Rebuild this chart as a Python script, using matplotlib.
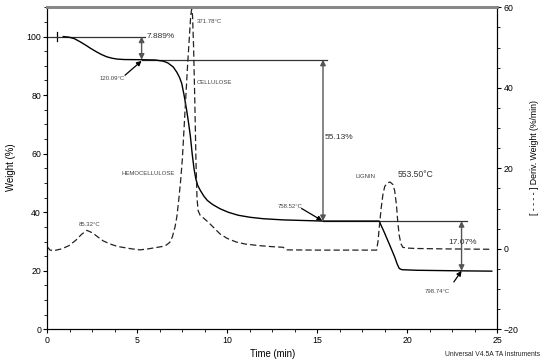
import matplotlib
matplotlib.use("Agg")
import matplotlib.pyplot as plt
from matplotlib.ticker import MultipleLocator

plt.rcParams['font.family'] = ['Liberation Sans', 'DejaVu Sans']

# weight loss curve (Weight %, left axis)
t_w = [0.89, 1.2, 1.5, 1.8, 2.1, 2.4, 2.7, 3.0, 3.3, 3.6, 3.9, 4.3, 5.24, 6.0, 6.44,
       6.7, 7.0, 7.2, 7.35, 7.47, 7.6, 7.74, 7.85, 7.95, 8.05, 8.15, 8.25, 8.35, 8.5,
       8.7, 8.9, 9.2, 9.6, 10.06, 10.6, 11.26, 12.0, 13.1, 14.2, 15.28, 18.44, 18.7,
       19.0, 19.3, 19.45, 19.56, 19.7, 20.5, 23.0, 24.7]
weight = [100.0, 99.8, 99.3, 98.3, 97.2, 96.0, 94.9, 93.9, 93.1, 92.6, 92.3, 92.15,
          92.1, 92.0, 91.6, 91.0, 89.6, 87.8, 86.0, 84.0, 80.0, 75.0, 70.5, 66.0, 60.0,
          55.0, 51.5, 49.3, 47.5, 45.5, 44.0, 42.6, 41.2, 40.0, 39.0, 38.3, 37.8, 37.4,
          37.2, 37.0, 37.0, 33.5, 29.2, 24.8, 22.2, 20.8, 20.4, 20.2, 20.0, 19.9]

# derivative weight curve (%/min, right axis)
t_d = [0.0, 0.15, 0.4, 0.8, 1.2, 1.6, 1.9, 2.2, 2.5, 2.8, 3.1, 3.5, 3.9, 4.3, 4.7,
       5.15, 5.6, 6.0, 6.4, 6.6, 6.8, 6.95, 7.1, 7.2, 7.3, 7.4, 7.5, 7.6, 7.7, 7.8,
       7.9, 7.97, 8.02, 8.07, 8.13, 8.2, 8.26, 8.32, 8.38, 8.5, 8.67, 8.8, 8.95, 9.2,
       9.6, 10.0, 10.5, 11.0, 11.8, 12.5, 13.1, 13.3, 15.0, 18.3, 18.38, 18.45, 18.55,
       18.65, 18.75, 18.9, 19.05, 19.2, 19.3, 19.4, 19.47, 19.55, 19.65, 19.75, 20.0,
       20.5, 22.0, 24.7]
deriv = [0.5, -0.3, -0.4, 0.0, 0.8, 2.2, 3.6, 4.6, 4.0, 3.0, 2.0, 1.2, 0.6, 0.3, 0.0,
         -0.25, 0.0, 0.3, 0.6, 0.9, 1.6, 3.0, 5.5, 8.0, 12.0, 16.5, 22.0, 30.0, 38.0,
         46.0, 53.0, 58.0, 59.5, 58.0, 50.0, 36.0, 22.0, 12.5, 9.5, 8.3, 7.7, 7.2, 6.6,
         5.5, 3.7, 2.6, 1.7, 1.2, 0.8, 0.55, 0.4, -0.25, -0.3, -0.3, 2.0, 5.5, 10.0,
         13.5, 15.5, 16.4, 16.6, 16.0, 14.5, 11.0, 7.0, 3.5, 1.3, 0.4, 0.2,
         0.1, 0.0, -0.1]

# step analysis: arrow time, upper and lower weight, label
steps_t = [5.24, 15.32, 23.02]
steps_hi = [100.0, 92.1, 37.0]
steps_lo = [92.1, 37.0, 20.0]
steps_lbl = ['7.889%', '55.13%', '17.07%']

fig = plt.figure(figsize=(5.5, 3.64), dpi=100)
ax = fig.add_axes([0.086, 0.095, 0.818, 0.885])
ax2 = ax.twinx()

ax.plot(t_w, weight, color='black', lw=1.0, zorder=3)
ax2.plot(t_d, deriv, color='#222222', lw=0.9, dashes=(5, 2.5))

# start marker
ax.plot([0.55, 0.55], [98.6, 101.4], color='black', lw=0.9)

# horizontal reference lines
ax.plot([0, 5.43], [100, 100], color='#333333', lw=0.9)
ax.plot([5.24, 15.52], [92.1, 92.1], color='#333333', lw=0.9)
ax.plot([15.3, 23.3], [37.0, 37.0], color='#333333', lw=0.9)

for x, hi, lo in zip(steps_t, steps_hi, steps_lo):
    ax.annotate('', xy=(x, lo), xytext=(x, hi),
                arrowprops=dict(arrowstyle='<|-|>', color='#555555', lw=1.0,
                                mutation_scale=8, shrinkA=0, shrinkB=0))
ax.text(5.5, 100, steps_lbl[0], fontsize=6, va='center', ha='left', color='#333333')
ax.text(15.43, 65.7, steps_lbl[1], fontsize=6, va='center', ha='left', color='#333333')
ax.text(22.3, 29.7, steps_lbl[2], fontsize=6, va='center', ha='left', color='#333333')

# temperature callouts
small = 4.3
arr = dict(arrowstyle='-|>', color='black', lw=0.9, mutation_scale=7, shrinkA=0, shrinkB=0)
ax.annotate('', xy=(5.24, 91.7), xytext=(4.32, 86.8), arrowprops=arr)
ax.text(3.58, 85.7, '120.09°C', fontsize=small, ha='center', va='center', color='#444444')
ax.annotate('', xy=(15.28, 37.1), xytext=(14.13, 41.3), arrowprops=arr)
ax.text(13.5, 42.1, '758.52°C', fontsize=small, ha='center', va='center', color='#444444')
ax.annotate('', xy=(23.02, 20.0), xytext=(22.59, 16.2), arrowprops=arr)
ax.text(21.67, 12.8, '798.74°C', fontsize=small, ha='center', va='center', color='#444444')

ax.text(2.37, 35.9, '85.32°C', fontsize=small, ha='center', va='center', color='#444444')
ax.text(8.3, 105.3, '371.78°C', fontsize=small, ha='left', va='center', color='#444444')
ax.text(8.3, 84.2, 'CELLULOSE', fontsize=small, ha='left', va='center', color='#444444')
ax.text(5.63, 53.2, 'HEMOCELLULOSE', fontsize=small, ha='center', va='center', color='#444444')
ax.text(17.15, 52.3, 'LIGNIN', fontsize=small, ha='left', va='center', color='#444444')
ax.text(19.45, 53.0, '553.50°C', fontsize=6.2, ha='left', va='center', color='#333333')

ax.set_xlim(0, 25)
ax.set_ylim(0, 110)
ax2.set_ylim(-20, 60)

ax.xaxis.set_major_locator(MultipleLocator(5))
ax.xaxis.set_minor_locator(MultipleLocator(1.25))
ax.yaxis.set_major_locator(MultipleLocator(20))
ax.yaxis.set_minor_locator(MultipleLocator(5))
ax2.yaxis.set_major_locator(MultipleLocator(20))
ax2.yaxis.set_minor_locator(MultipleLocator(5))

for a in (ax, ax2):
    a.tick_params(which='major', length=3, width=0.8, labelsize=6.3, pad=1.5)
    a.tick_params(which='minor', length=2, width=0.6)
    for s in a.spines.values():
        s.set_linewidth(0.8)
    a.spines['top'].set_color('#888888')
    a.spines['top'].set_linewidth(2)

ax.set_xlabel('Time (min)', fontsize=6.9)
ax.xaxis.set_label_coords(0.5, -0.061)
ax.set_ylabel('Weight (%)', fontsize=6.9)
ax.yaxis.set_label_coords(-0.07, 0.504)
ax2.set_ylabel('[ - - - - ] Deriv. Weight (%/min)', fontsize=6.3)
ax2.yaxis.set_label_coords(1.073, 0.535)

fig.text(0.982, 0.025, 'Universal V4.5A TA Instruments', fontsize=4.9, ha='right',
         va='center', color='#222222')

fig.savefig('out.png', dpi=100)
